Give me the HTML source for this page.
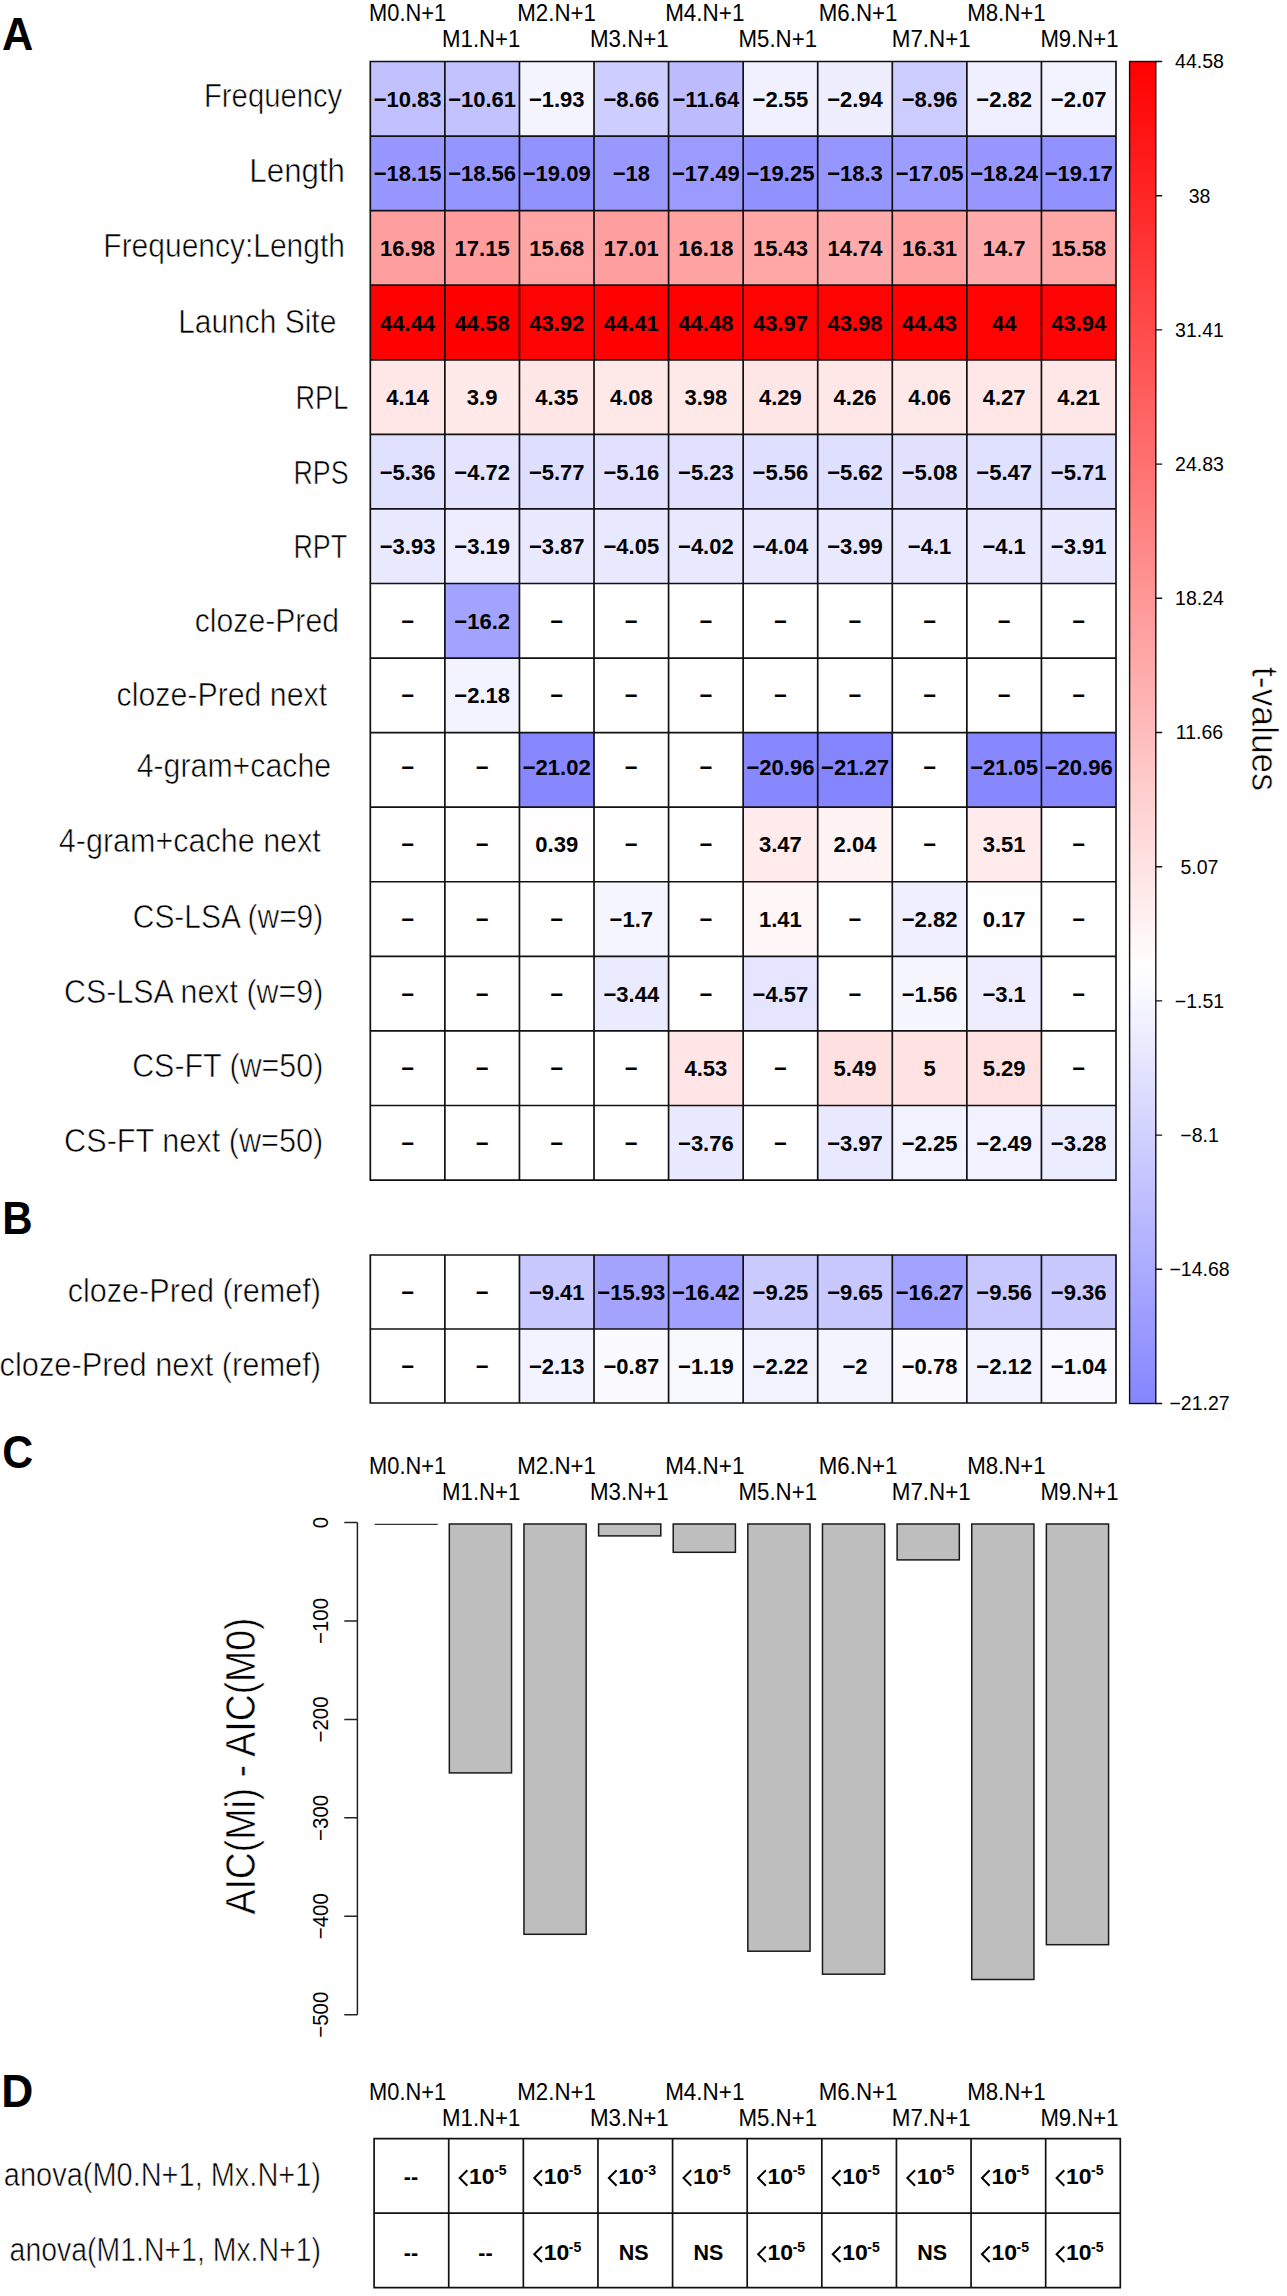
<!DOCTYPE html>
<html><head><meta charset="utf-8"><title>Figure</title>
<style>html,body{margin:0;padding:0;background:#fff;}body{width:1287px;height:2296px;overflow:hidden;font-family:"Liberation Sans", sans-serif;}svg{display:block;}</style>
</head><body>
<svg width="1287" height="2296" viewBox="0 0 1287 2296" font-family='"Liberation Sans", sans-serif'>
<style>.lab{stroke:#fff;stroke-width:0.6px;}</style>
<rect width="1287" height="2296" fill="#fff"/>
<text x="2.02" y="49.7" font-size="45.5" font-weight="bold" textLength="31.32" lengthAdjust="spacingAndGlyphs">A</text>
<text x="2.29" y="1233.5" font-size="45.5" font-weight="bold" textLength="30.31" lengthAdjust="spacingAndGlyphs">B</text>
<text x="2.14" y="1467.5" font-size="45.5" font-weight="bold" textLength="30.93" lengthAdjust="spacingAndGlyphs">C</text>
<text x="1.33" y="2106.6" font-size="45.5" font-weight="bold" textLength="32.03" lengthAdjust="spacingAndGlyphs">D</text>
<text x="369.11" y="21.3" font-size="23.8" textLength="77.06" lengthAdjust="spacingAndGlyphs">M0.N+1</text>
<text x="442.08" y="47.4" font-size="23.8" textLength="78.3" lengthAdjust="spacingAndGlyphs">M1.N+1</text>
<text x="517.27" y="21.3" font-size="23.8" textLength="78.61" lengthAdjust="spacingAndGlyphs">M2.N+1</text>
<text x="589.97" y="47.4" font-size="23.8" textLength="78.72" lengthAdjust="spacingAndGlyphs">M3.N+1</text>
<text x="665.16" y="21.3" font-size="23.8" textLength="79.24" lengthAdjust="spacingAndGlyphs">M4.N+1</text>
<text x="738.47" y="47.4" font-size="23.8" textLength="78.61" lengthAdjust="spacingAndGlyphs">M5.N+1</text>
<text x="818.77" y="21.3" font-size="23.8" textLength="78.72" lengthAdjust="spacingAndGlyphs">M6.N+1</text>
<text x="891.76" y="47.4" font-size="23.8" textLength="79.03" lengthAdjust="spacingAndGlyphs">M7.N+1</text>
<text x="967.17" y="21.3" font-size="23.8" textLength="78.61" lengthAdjust="spacingAndGlyphs">M8.N+1</text>
<text x="1040.38" y="47.4" font-size="23.8" textLength="78.1" lengthAdjust="spacingAndGlyphs">M9.N+1</text>
<rect x="370.3" y="61.5" width="74.57" height="74.57" fill="rgb(193,193,255)"/>
<rect x="444.87" y="61.5" width="74.57" height="74.57" fill="rgb(194,194,255)"/>
<rect x="519.44" y="61.5" width="74.57" height="74.57" fill="rgb(244,244,255)"/>
<rect x="594.01" y="61.5" width="74.57" height="74.57" fill="rgb(205,205,255)"/>
<rect x="668.58" y="61.5" width="74.57" height="74.57" fill="rgb(188,188,255)"/>
<rect x="743.15" y="61.5" width="74.57" height="74.57" fill="rgb(240,240,255)"/>
<rect x="817.72" y="61.5" width="74.57" height="74.57" fill="rgb(238,238,255)"/>
<rect x="892.29" y="61.5" width="74.57" height="74.57" fill="rgb(204,204,255)"/>
<rect x="966.86" y="61.5" width="74.57" height="74.57" fill="rgb(239,239,255)"/>
<rect x="1041.43" y="61.5" width="74.57" height="74.57" fill="rgb(243,243,255)"/>
<rect x="370.3" y="136.07" width="74.57" height="74.57" fill="rgb(151,151,255)"/>
<rect x="444.87" y="136.07" width="74.57" height="74.57" fill="rgb(149,149,255)"/>
<rect x="519.44" y="136.07" width="74.57" height="74.57" fill="rgb(146,146,255)"/>
<rect x="594.01" y="136.07" width="74.57" height="74.57" fill="rgb(152,152,255)"/>
<rect x="668.58" y="136.07" width="74.57" height="74.57" fill="rgb(155,155,255)"/>
<rect x="743.15" y="136.07" width="74.57" height="74.57" fill="rgb(145,145,255)"/>
<rect x="817.72" y="136.07" width="74.57" height="74.57" fill="rgb(150,150,255)"/>
<rect x="892.29" y="136.07" width="74.57" height="74.57" fill="rgb(157,157,255)"/>
<rect x="966.86" y="136.07" width="74.57" height="74.57" fill="rgb(151,151,255)"/>
<rect x="1041.43" y="136.07" width="74.57" height="74.57" fill="rgb(145,145,255)"/>
<rect x="370.3" y="210.64" width="74.57" height="74.57" fill="rgb(255,158,158)"/>
<rect x="444.87" y="210.64" width="74.57" height="74.57" fill="rgb(255,157,157)"/>
<rect x="519.44" y="210.64" width="74.57" height="74.57" fill="rgb(255,165,165)"/>
<rect x="594.01" y="210.64" width="74.57" height="74.57" fill="rgb(255,158,158)"/>
<rect x="668.58" y="210.64" width="74.57" height="74.57" fill="rgb(255,162,162)"/>
<rect x="743.15" y="210.64" width="74.57" height="74.57" fill="rgb(255,167,167)"/>
<rect x="817.72" y="210.64" width="74.57" height="74.57" fill="rgb(255,171,171)"/>
<rect x="892.29" y="210.64" width="74.57" height="74.57" fill="rgb(255,162,162)"/>
<rect x="966.86" y="210.64" width="74.57" height="74.57" fill="rgb(255,171,171)"/>
<rect x="1041.43" y="210.64" width="74.57" height="74.57" fill="rgb(255,166,166)"/>
<rect x="370.3" y="285.21" width="74.57" height="74.57" fill="rgb(255,1,1)"/>
<rect x="444.87" y="285.21" width="74.57" height="74.57" fill="rgb(255,0,0)"/>
<rect x="519.44" y="285.21" width="74.57" height="74.57" fill="rgb(255,4,4)"/>
<rect x="594.01" y="285.21" width="74.57" height="74.57" fill="rgb(255,1,1)"/>
<rect x="668.58" y="285.21" width="74.57" height="74.57" fill="rgb(255,1,1)"/>
<rect x="743.15" y="285.21" width="74.57" height="74.57" fill="rgb(255,3,3)"/>
<rect x="817.72" y="285.21" width="74.57" height="74.57" fill="rgb(255,3,3)"/>
<rect x="892.29" y="285.21" width="74.57" height="74.57" fill="rgb(255,1,1)"/>
<rect x="966.86" y="285.21" width="74.57" height="74.57" fill="rgb(255,3,3)"/>
<rect x="1041.43" y="285.21" width="74.57" height="74.57" fill="rgb(255,4,4)"/>
<rect x="370.3" y="359.78" width="74.57" height="74.57" fill="rgb(255,231,231)"/>
<rect x="444.87" y="359.78" width="74.57" height="74.57" fill="rgb(255,233,233)"/>
<rect x="519.44" y="359.78" width="74.57" height="74.57" fill="rgb(255,230,230)"/>
<rect x="594.01" y="359.78" width="74.57" height="74.57" fill="rgb(255,232,232)"/>
<rect x="668.58" y="359.78" width="74.57" height="74.57" fill="rgb(255,232,232)"/>
<rect x="743.15" y="359.78" width="74.57" height="74.57" fill="rgb(255,230,230)"/>
<rect x="817.72" y="359.78" width="74.57" height="74.57" fill="rgb(255,231,231)"/>
<rect x="892.29" y="359.78" width="74.57" height="74.57" fill="rgb(255,232,232)"/>
<rect x="966.86" y="359.78" width="74.57" height="74.57" fill="rgb(255,231,231)"/>
<rect x="1041.43" y="359.78" width="74.57" height="74.57" fill="rgb(255,231,231)"/>
<rect x="370.3" y="434.35" width="74.57" height="74.57" fill="rgb(224,224,255)"/>
<rect x="444.87" y="434.35" width="74.57" height="74.57" fill="rgb(228,228,255)"/>
<rect x="519.44" y="434.35" width="74.57" height="74.57" fill="rgb(222,222,255)"/>
<rect x="594.01" y="434.35" width="74.57" height="74.57" fill="rgb(225,225,255)"/>
<rect x="668.58" y="434.35" width="74.57" height="74.57" fill="rgb(225,225,255)"/>
<rect x="743.15" y="434.35" width="74.57" height="74.57" fill="rgb(223,223,255)"/>
<rect x="817.72" y="434.35" width="74.57" height="74.57" fill="rgb(223,223,255)"/>
<rect x="892.29" y="434.35" width="74.57" height="74.57" fill="rgb(226,226,255)"/>
<rect x="966.86" y="434.35" width="74.57" height="74.57" fill="rgb(224,224,255)"/>
<rect x="1041.43" y="434.35" width="74.57" height="74.57" fill="rgb(222,222,255)"/>
<rect x="370.3" y="508.92" width="74.57" height="74.57" fill="rgb(233,233,255)"/>
<rect x="444.87" y="508.92" width="74.57" height="74.57" fill="rgb(237,237,255)"/>
<rect x="519.44" y="508.92" width="74.57" height="74.57" fill="rgb(233,233,255)"/>
<rect x="594.01" y="508.92" width="74.57" height="74.57" fill="rgb(232,232,255)"/>
<rect x="668.58" y="508.92" width="74.57" height="74.57" fill="rgb(232,232,255)"/>
<rect x="743.15" y="508.92" width="74.57" height="74.57" fill="rgb(232,232,255)"/>
<rect x="817.72" y="508.92" width="74.57" height="74.57" fill="rgb(232,232,255)"/>
<rect x="892.29" y="508.92" width="74.57" height="74.57" fill="rgb(232,232,255)"/>
<rect x="966.86" y="508.92" width="74.57" height="74.57" fill="rgb(232,232,255)"/>
<rect x="1041.43" y="508.92" width="74.57" height="74.57" fill="rgb(233,233,255)"/>
<rect x="444.87" y="583.49" width="74.57" height="74.57" fill="rgb(162,162,255)"/>
<rect x="444.87" y="658.06" width="74.57" height="74.57" fill="rgb(243,243,255)"/>
<rect x="519.44" y="732.63" width="74.57" height="74.57" fill="rgb(135,135,255)"/>
<rect x="743.15" y="732.63" width="74.57" height="74.57" fill="rgb(135,135,255)"/>
<rect x="817.72" y="732.63" width="74.57" height="74.57" fill="rgb(133,133,255)"/>
<rect x="966.86" y="732.63" width="74.57" height="74.57" fill="rgb(135,135,255)"/>
<rect x="1041.43" y="732.63" width="74.57" height="74.57" fill="rgb(135,135,255)"/>
<rect x="519.44" y="807.2" width="74.57" height="74.57" fill="rgb(255,253,253)"/>
<rect x="743.15" y="807.2" width="74.57" height="74.57" fill="rgb(255,235,235)"/>
<rect x="817.72" y="807.2" width="74.57" height="74.57" fill="rgb(255,243,243)"/>
<rect x="966.86" y="807.2" width="74.57" height="74.57" fill="rgb(255,235,235)"/>
<rect x="594.01" y="881.77" width="74.57" height="74.57" fill="rgb(245,245,255)"/>
<rect x="743.15" y="881.77" width="74.57" height="74.57" fill="rgb(255,247,247)"/>
<rect x="892.29" y="881.77" width="74.57" height="74.57" fill="rgb(239,239,255)"/>
<rect x="966.86" y="881.77" width="74.57" height="74.57" fill="rgb(255,254,254)"/>
<rect x="594.01" y="956.34" width="74.57" height="74.57" fill="rgb(235,235,255)"/>
<rect x="743.15" y="956.34" width="74.57" height="74.57" fill="rgb(229,229,255)"/>
<rect x="892.29" y="956.34" width="74.57" height="74.57" fill="rgb(246,246,255)"/>
<rect x="966.86" y="956.34" width="74.57" height="74.57" fill="rgb(237,237,255)"/>
<rect x="668.58" y="1030.91" width="74.57" height="74.57" fill="rgb(255,229,229)"/>
<rect x="817.72" y="1030.91" width="74.57" height="74.57" fill="rgb(255,224,224)"/>
<rect x="892.29" y="1030.91" width="74.57" height="74.57" fill="rgb(255,226,226)"/>
<rect x="966.86" y="1030.91" width="74.57" height="74.57" fill="rgb(255,225,225)"/>
<rect x="668.58" y="1105.48" width="74.57" height="74.57" fill="rgb(233,233,255)"/>
<rect x="817.72" y="1105.48" width="74.57" height="74.57" fill="rgb(232,232,255)"/>
<rect x="892.29" y="1105.48" width="74.57" height="74.57" fill="rgb(242,242,255)"/>
<rect x="966.86" y="1105.48" width="74.57" height="74.57" fill="rgb(241,241,255)"/>
<rect x="1041.43" y="1105.48" width="74.57" height="74.57" fill="rgb(236,236,255)"/>
<path d="M369.45 61.5H1116.85M369.45 136.07H1116.85M369.45 210.64H1116.85M369.45 285.21H1116.85M369.45 359.78H1116.85M369.45 434.35H1116.85M369.45 508.92H1116.85M369.45 583.49H1116.85M369.45 658.06H1116.85M369.45 732.63H1116.85M369.45 807.2H1116.85M369.45 881.77H1116.85M369.45 956.34H1116.85M369.45 1030.91H1116.85M369.45 1105.48H1116.85M369.45 1180.05H1116.85M370.3 61.5V1180.05M444.87 61.5V1180.05M519.44 61.5V1180.05M594.01 61.5V1180.05M668.58 61.5V1180.05M743.15 61.5V1180.05M817.72 61.5V1180.05M892.29 61.5V1180.05M966.86 61.5V1180.05M1041.43 61.5V1180.05M1116 61.5V1180.05" stroke="#111" stroke-width="1.7" fill="none"/>
<text x="204" y="107.4" font-size="33" textLength="138.26" lengthAdjust="spacingAndGlyphs" class="lab">Frequency</text>
<text x="407.59" y="106.78" font-size="22" font-weight="bold" text-anchor="middle">−10.83</text>
<text x="482.15" y="106.78" font-size="22" font-weight="bold" text-anchor="middle">−10.61</text>
<text x="556.73" y="106.78" font-size="22" font-weight="bold" text-anchor="middle">−1.93</text>
<text x="631.3" y="106.78" font-size="22" font-weight="bold" text-anchor="middle">−8.66</text>
<text x="705.87" y="106.78" font-size="22" font-weight="bold" text-anchor="middle">−11.64</text>
<text x="780.43" y="106.78" font-size="22" font-weight="bold" text-anchor="middle">−2.55</text>
<text x="855" y="106.78" font-size="22" font-weight="bold" text-anchor="middle">−2.94</text>
<text x="929.58" y="106.78" font-size="22" font-weight="bold" text-anchor="middle">−8.96</text>
<text x="1004.14" y="106.78" font-size="22" font-weight="bold" text-anchor="middle">−2.82</text>
<text x="1078.71" y="106.78" font-size="22" font-weight="bold" text-anchor="middle">−2.07</text>
<text x="249.33" y="182.2" font-size="33" textLength="95.7" lengthAdjust="spacingAndGlyphs" class="lab">Length</text>
<text x="407.59" y="181.35" font-size="22" font-weight="bold" text-anchor="middle">−18.15</text>
<text x="482.15" y="181.35" font-size="22" font-weight="bold" text-anchor="middle">−18.56</text>
<text x="556.73" y="181.35" font-size="22" font-weight="bold" text-anchor="middle">−19.09</text>
<text x="631.3" y="181.35" font-size="22" font-weight="bold" text-anchor="middle">−18</text>
<text x="705.87" y="181.35" font-size="22" font-weight="bold" text-anchor="middle">−17.49</text>
<text x="780.43" y="181.35" font-size="22" font-weight="bold" text-anchor="middle">−19.25</text>
<text x="855" y="181.35" font-size="22" font-weight="bold" text-anchor="middle">−18.3</text>
<text x="929.58" y="181.35" font-size="22" font-weight="bold" text-anchor="middle">−17.05</text>
<text x="1004.14" y="181.35" font-size="22" font-weight="bold" text-anchor="middle">−18.24</text>
<text x="1078.71" y="181.35" font-size="22" font-weight="bold" text-anchor="middle">−19.17</text>
<text x="103.34" y="257" font-size="33" textLength="241.61" lengthAdjust="spacingAndGlyphs" class="lab">Frequency:Length</text>
<text x="407.59" y="255.92" font-size="22" font-weight="bold" text-anchor="middle">16.98</text>
<text x="482.15" y="255.92" font-size="22" font-weight="bold" text-anchor="middle">17.15</text>
<text x="556.73" y="255.92" font-size="22" font-weight="bold" text-anchor="middle">15.68</text>
<text x="631.3" y="255.92" font-size="22" font-weight="bold" text-anchor="middle">17.01</text>
<text x="705.87" y="255.92" font-size="22" font-weight="bold" text-anchor="middle">16.18</text>
<text x="780.43" y="255.92" font-size="22" font-weight="bold" text-anchor="middle">15.43</text>
<text x="855" y="255.92" font-size="22" font-weight="bold" text-anchor="middle">14.74</text>
<text x="929.58" y="255.92" font-size="22" font-weight="bold" text-anchor="middle">16.31</text>
<text x="1004.14" y="255.92" font-size="22" font-weight="bold" text-anchor="middle">14.7</text>
<text x="1078.71" y="255.92" font-size="22" font-weight="bold" text-anchor="middle">15.58</text>
<text x="178.14" y="333.1" font-size="33" textLength="158.19" lengthAdjust="spacingAndGlyphs" class="lab">Launch Site</text>
<text x="407.59" y="330.5" font-size="22" font-weight="bold" text-anchor="middle">44.44</text>
<text x="482.15" y="330.5" font-size="22" font-weight="bold" text-anchor="middle">44.58</text>
<text x="556.73" y="330.5" font-size="22" font-weight="bold" text-anchor="middle">43.92</text>
<text x="631.3" y="330.5" font-size="22" font-weight="bold" text-anchor="middle">44.41</text>
<text x="705.87" y="330.5" font-size="22" font-weight="bold" text-anchor="middle">44.48</text>
<text x="780.43" y="330.5" font-size="22" font-weight="bold" text-anchor="middle">43.97</text>
<text x="855" y="330.5" font-size="22" font-weight="bold" text-anchor="middle">43.98</text>
<text x="929.58" y="330.5" font-size="22" font-weight="bold" text-anchor="middle">44.43</text>
<text x="1004.14" y="330.5" font-size="22" font-weight="bold" text-anchor="middle">44</text>
<text x="1078.71" y="330.5" font-size="22" font-weight="bold" text-anchor="middle">43.94</text>
<text x="295.47" y="408.9" font-size="33" textLength="52.83" lengthAdjust="spacingAndGlyphs" class="lab">RPL</text>
<text x="407.59" y="405.06" font-size="22" font-weight="bold" text-anchor="middle">4.14</text>
<text x="482.15" y="405.06" font-size="22" font-weight="bold" text-anchor="middle">3.9</text>
<text x="556.73" y="405.06" font-size="22" font-weight="bold" text-anchor="middle">4.35</text>
<text x="631.3" y="405.06" font-size="22" font-weight="bold" text-anchor="middle">4.08</text>
<text x="705.87" y="405.06" font-size="22" font-weight="bold" text-anchor="middle">3.98</text>
<text x="780.43" y="405.06" font-size="22" font-weight="bold" text-anchor="middle">4.29</text>
<text x="855" y="405.06" font-size="22" font-weight="bold" text-anchor="middle">4.26</text>
<text x="929.58" y="405.06" font-size="22" font-weight="bold" text-anchor="middle">4.06</text>
<text x="1004.14" y="405.06" font-size="22" font-weight="bold" text-anchor="middle">4.27</text>
<text x="1078.71" y="405.06" font-size="22" font-weight="bold" text-anchor="middle">4.21</text>
<text x="293.4" y="483.6" font-size="33" textLength="55.13" lengthAdjust="spacingAndGlyphs" class="lab">RPS</text>
<text x="407.59" y="479.63" font-size="22" font-weight="bold" text-anchor="middle">−5.36</text>
<text x="482.15" y="479.63" font-size="22" font-weight="bold" text-anchor="middle">−4.72</text>
<text x="556.73" y="479.63" font-size="22" font-weight="bold" text-anchor="middle">−5.77</text>
<text x="631.3" y="479.63" font-size="22" font-weight="bold" text-anchor="middle">−5.16</text>
<text x="705.87" y="479.63" font-size="22" font-weight="bold" text-anchor="middle">−5.23</text>
<text x="780.43" y="479.63" font-size="22" font-weight="bold" text-anchor="middle">−5.56</text>
<text x="855" y="479.63" font-size="22" font-weight="bold" text-anchor="middle">−5.62</text>
<text x="929.58" y="479.63" font-size="22" font-weight="bold" text-anchor="middle">−5.08</text>
<text x="1004.14" y="479.63" font-size="22" font-weight="bold" text-anchor="middle">−5.47</text>
<text x="1078.71" y="479.63" font-size="22" font-weight="bold" text-anchor="middle">−5.71</text>
<text x="293.4" y="557.8" font-size="33" textLength="53.72" lengthAdjust="spacingAndGlyphs" class="lab">RPT</text>
<text x="407.59" y="554.2" font-size="22" font-weight="bold" text-anchor="middle">−3.93</text>
<text x="482.15" y="554.2" font-size="22" font-weight="bold" text-anchor="middle">−3.19</text>
<text x="556.73" y="554.2" font-size="22" font-weight="bold" text-anchor="middle">−3.87</text>
<text x="631.3" y="554.2" font-size="22" font-weight="bold" text-anchor="middle">−4.05</text>
<text x="705.87" y="554.2" font-size="22" font-weight="bold" text-anchor="middle">−4.02</text>
<text x="780.43" y="554.2" font-size="22" font-weight="bold" text-anchor="middle">−4.04</text>
<text x="855" y="554.2" font-size="22" font-weight="bold" text-anchor="middle">−3.99</text>
<text x="929.58" y="554.2" font-size="22" font-weight="bold" text-anchor="middle">−4.1</text>
<text x="1004.14" y="554.2" font-size="22" font-weight="bold" text-anchor="middle">−4.1</text>
<text x="1078.71" y="554.2" font-size="22" font-weight="bold" text-anchor="middle">−3.91</text>
<text x="194.72" y="631.7" font-size="33" textLength="144.23" lengthAdjust="spacingAndGlyphs" class="lab">cloze-Pred</text>
<text x="407.59" y="628.77" font-size="22" font-weight="bold" text-anchor="middle">−</text>
<text x="482.15" y="628.77" font-size="22" font-weight="bold" text-anchor="middle">−16.2</text>
<text x="556.73" y="628.77" font-size="22" font-weight="bold" text-anchor="middle">−</text>
<text x="631.3" y="628.77" font-size="22" font-weight="bold" text-anchor="middle">−</text>
<text x="705.87" y="628.77" font-size="22" font-weight="bold" text-anchor="middle">−</text>
<text x="780.43" y="628.77" font-size="22" font-weight="bold" text-anchor="middle">−</text>
<text x="855" y="628.77" font-size="22" font-weight="bold" text-anchor="middle">−</text>
<text x="929.58" y="628.77" font-size="22" font-weight="bold" text-anchor="middle">−</text>
<text x="1004.14" y="628.77" font-size="22" font-weight="bold" text-anchor="middle">−</text>
<text x="1078.71" y="628.77" font-size="22" font-weight="bold" text-anchor="middle">−</text>
<text x="116.61" y="705.9" font-size="33" textLength="210.51" lengthAdjust="spacingAndGlyphs" class="lab">cloze-Pred next</text>
<text x="407.59" y="703.34" font-size="22" font-weight="bold" text-anchor="middle">−</text>
<text x="482.15" y="703.34" font-size="22" font-weight="bold" text-anchor="middle">−2.18</text>
<text x="556.73" y="703.34" font-size="22" font-weight="bold" text-anchor="middle">−</text>
<text x="631.3" y="703.34" font-size="22" font-weight="bold" text-anchor="middle">−</text>
<text x="705.87" y="703.34" font-size="22" font-weight="bold" text-anchor="middle">−</text>
<text x="780.43" y="703.34" font-size="22" font-weight="bold" text-anchor="middle">−</text>
<text x="855" y="703.34" font-size="22" font-weight="bold" text-anchor="middle">−</text>
<text x="929.58" y="703.34" font-size="22" font-weight="bold" text-anchor="middle">−</text>
<text x="1004.14" y="703.34" font-size="22" font-weight="bold" text-anchor="middle">−</text>
<text x="1078.71" y="703.34" font-size="22" font-weight="bold" text-anchor="middle">−</text>
<text x="136.7" y="777.4" font-size="33" textLength="194.44" lengthAdjust="spacingAndGlyphs" class="lab">4-gram+cache</text>
<text x="407.59" y="775.31" font-size="22" font-weight="bold" text-anchor="middle">−</text>
<text x="482.15" y="775.31" font-size="22" font-weight="bold" text-anchor="middle">−</text>
<text x="556.73" y="775.31" font-size="22" font-weight="bold" text-anchor="middle">−21.02</text>
<text x="631.3" y="775.31" font-size="22" font-weight="bold" text-anchor="middle">−</text>
<text x="705.87" y="775.31" font-size="22" font-weight="bold" text-anchor="middle">−</text>
<text x="780.43" y="775.31" font-size="22" font-weight="bold" text-anchor="middle">−20.96</text>
<text x="855" y="775.31" font-size="22" font-weight="bold" text-anchor="middle">−21.27</text>
<text x="929.58" y="775.31" font-size="22" font-weight="bold" text-anchor="middle">−</text>
<text x="1004.14" y="775.31" font-size="22" font-weight="bold" text-anchor="middle">−21.05</text>
<text x="1078.71" y="775.31" font-size="22" font-weight="bold" text-anchor="middle">−20.96</text>
<text x="58.8" y="852.2" font-size="33" textLength="262.02" lengthAdjust="spacingAndGlyphs" class="lab">4-gram+cache next</text>
<text x="407.59" y="852.48" font-size="22" font-weight="bold" text-anchor="middle">−</text>
<text x="482.15" y="852.48" font-size="22" font-weight="bold" text-anchor="middle">−</text>
<text x="556.73" y="852.48" font-size="22" font-weight="bold" text-anchor="middle">0.39</text>
<text x="631.3" y="852.48" font-size="22" font-weight="bold" text-anchor="middle">−</text>
<text x="705.87" y="852.48" font-size="22" font-weight="bold" text-anchor="middle">−</text>
<text x="780.43" y="852.48" font-size="22" font-weight="bold" text-anchor="middle">3.47</text>
<text x="855" y="852.48" font-size="22" font-weight="bold" text-anchor="middle">2.04</text>
<text x="929.58" y="852.48" font-size="22" font-weight="bold" text-anchor="middle">−</text>
<text x="1004.14" y="852.48" font-size="22" font-weight="bold" text-anchor="middle">3.51</text>
<text x="1078.71" y="852.48" font-size="22" font-weight="bold" text-anchor="middle">−</text>
<text x="132.79" y="928.4" font-size="33" textLength="190.45" lengthAdjust="spacingAndGlyphs" class="lab">CS-LSA (w=9)</text>
<text x="407.59" y="927.05" font-size="22" font-weight="bold" text-anchor="middle">−</text>
<text x="482.15" y="927.05" font-size="22" font-weight="bold" text-anchor="middle">−</text>
<text x="556.73" y="927.05" font-size="22" font-weight="bold" text-anchor="middle">−</text>
<text x="631.3" y="927.05" font-size="22" font-weight="bold" text-anchor="middle">−1.7</text>
<text x="705.87" y="927.05" font-size="22" font-weight="bold" text-anchor="middle">−</text>
<text x="780.43" y="927.05" font-size="22" font-weight="bold" text-anchor="middle">1.41</text>
<text x="855" y="927.05" font-size="22" font-weight="bold" text-anchor="middle">−</text>
<text x="929.58" y="927.05" font-size="22" font-weight="bold" text-anchor="middle">−2.82</text>
<text x="1004.14" y="927.05" font-size="22" font-weight="bold" text-anchor="middle">0.17</text>
<text x="1078.71" y="927.05" font-size="22" font-weight="bold" text-anchor="middle">−</text>
<text x="64.07" y="1002.6" font-size="33" textLength="259.2" lengthAdjust="spacingAndGlyphs" class="lab">CS-LSA next (w=9)</text>
<text x="407.59" y="1001.62" font-size="22" font-weight="bold" text-anchor="middle">−</text>
<text x="482.15" y="1001.62" font-size="22" font-weight="bold" text-anchor="middle">−</text>
<text x="556.73" y="1001.62" font-size="22" font-weight="bold" text-anchor="middle">−</text>
<text x="631.3" y="1001.62" font-size="22" font-weight="bold" text-anchor="middle">−3.44</text>
<text x="705.87" y="1001.62" font-size="22" font-weight="bold" text-anchor="middle">−</text>
<text x="780.43" y="1001.62" font-size="22" font-weight="bold" text-anchor="middle">−4.57</text>
<text x="855" y="1001.62" font-size="22" font-weight="bold" text-anchor="middle">−</text>
<text x="929.58" y="1001.62" font-size="22" font-weight="bold" text-anchor="middle">−1.56</text>
<text x="1004.14" y="1001.62" font-size="22" font-weight="bold" text-anchor="middle">−3.1</text>
<text x="1078.71" y="1001.62" font-size="22" font-weight="bold" text-anchor="middle">−</text>
<text x="132.16" y="1077" font-size="33" textLength="191.12" lengthAdjust="spacingAndGlyphs" class="lab">CS-FT (w=50)</text>
<text x="407.59" y="1076.19" font-size="22" font-weight="bold" text-anchor="middle">−</text>
<text x="482.15" y="1076.19" font-size="22" font-weight="bold" text-anchor="middle">−</text>
<text x="556.73" y="1076.19" font-size="22" font-weight="bold" text-anchor="middle">−</text>
<text x="631.3" y="1076.19" font-size="22" font-weight="bold" text-anchor="middle">−</text>
<text x="705.87" y="1076.19" font-size="22" font-weight="bold" text-anchor="middle">4.53</text>
<text x="780.43" y="1076.19" font-size="22" font-weight="bold" text-anchor="middle">−</text>
<text x="855" y="1076.19" font-size="22" font-weight="bold" text-anchor="middle">5.49</text>
<text x="929.58" y="1076.19" font-size="22" font-weight="bold" text-anchor="middle">5</text>
<text x="1004.14" y="1076.19" font-size="22" font-weight="bold" text-anchor="middle">5.29</text>
<text x="1078.71" y="1076.19" font-size="22" font-weight="bold" text-anchor="middle">−</text>
<text x="64.05" y="1152" font-size="33" textLength="259.25" lengthAdjust="spacingAndGlyphs" class="lab">CS-FT next (w=50)</text>
<text x="407.59" y="1150.76" font-size="22" font-weight="bold" text-anchor="middle">−</text>
<text x="482.15" y="1150.76" font-size="22" font-weight="bold" text-anchor="middle">−</text>
<text x="556.73" y="1150.76" font-size="22" font-weight="bold" text-anchor="middle">−</text>
<text x="631.3" y="1150.76" font-size="22" font-weight="bold" text-anchor="middle">−</text>
<text x="705.87" y="1150.76" font-size="22" font-weight="bold" text-anchor="middle">−3.76</text>
<text x="780.43" y="1150.76" font-size="22" font-weight="bold" text-anchor="middle">−</text>
<text x="855" y="1150.76" font-size="22" font-weight="bold" text-anchor="middle">−3.97</text>
<text x="929.58" y="1150.76" font-size="22" font-weight="bold" text-anchor="middle">−2.25</text>
<text x="1004.14" y="1150.76" font-size="22" font-weight="bold" text-anchor="middle">−2.49</text>
<text x="1078.71" y="1150.76" font-size="22" font-weight="bold" text-anchor="middle">−3.28</text>
<rect x="519.44" y="1255" width="74.57" height="74" fill="rgb(201,201,255)"/>
<rect x="594.01" y="1255" width="74.57" height="74" fill="rgb(164,164,255)"/>
<rect x="668.58" y="1255" width="74.57" height="74" fill="rgb(161,161,255)"/>
<rect x="743.15" y="1255" width="74.57" height="74" fill="rgb(202,202,255)"/>
<rect x="817.72" y="1255" width="74.57" height="74" fill="rgb(200,200,255)"/>
<rect x="892.29" y="1255" width="74.57" height="74" fill="rgb(162,162,255)"/>
<rect x="966.86" y="1255" width="74.57" height="74" fill="rgb(200,200,255)"/>
<rect x="1041.43" y="1255" width="74.57" height="74" fill="rgb(201,201,255)"/>
<rect x="519.44" y="1329" width="74.57" height="74" fill="rgb(243,243,255)"/>
<rect x="594.01" y="1329" width="74.57" height="74" fill="rgb(250,250,255)"/>
<rect x="668.58" y="1329" width="74.57" height="74" fill="rgb(248,248,255)"/>
<rect x="743.15" y="1329" width="74.57" height="74" fill="rgb(242,242,255)"/>
<rect x="817.72" y="1329" width="74.57" height="74" fill="rgb(244,244,255)"/>
<rect x="892.29" y="1329" width="74.57" height="74" fill="rgb(251,251,255)"/>
<rect x="966.86" y="1329" width="74.57" height="74" fill="rgb(243,243,255)"/>
<rect x="1041.43" y="1329" width="74.57" height="74" fill="rgb(249,249,255)"/>
<path d="M369.45 1255H1116.85M369.45 1329H1116.85M369.45 1403H1116.85M370.3 1255V1403M444.87 1255V1403M519.44 1255V1403M594.01 1255V1403M668.58 1255V1403M743.15 1255V1403M817.72 1255V1403M892.29 1255V1403M966.86 1255V1403M1041.43 1255V1403M1116 1255V1403" stroke="#111" stroke-width="1.7" fill="none"/>
<text x="67.7" y="1301.6" font-size="33" textLength="253.3" lengthAdjust="spacingAndGlyphs" class="lab">cloze-Pred (remef)</text>
<text x="407.59" y="1300" font-size="22" font-weight="bold" text-anchor="middle">−</text>
<text x="482.15" y="1300" font-size="22" font-weight="bold" text-anchor="middle">−</text>
<text x="556.73" y="1300" font-size="22" font-weight="bold" text-anchor="middle">−9.41</text>
<text x="631.3" y="1300" font-size="22" font-weight="bold" text-anchor="middle">−15.93</text>
<text x="705.87" y="1300" font-size="22" font-weight="bold" text-anchor="middle">−16.42</text>
<text x="780.43" y="1300" font-size="22" font-weight="bold" text-anchor="middle">−9.25</text>
<text x="855" y="1300" font-size="22" font-weight="bold" text-anchor="middle">−9.65</text>
<text x="929.58" y="1300" font-size="22" font-weight="bold" text-anchor="middle">−16.27</text>
<text x="1004.14" y="1300" font-size="22" font-weight="bold" text-anchor="middle">−9.56</text>
<text x="1078.71" y="1300" font-size="22" font-weight="bold" text-anchor="middle">−9.36</text>
<text x="-0.41" y="1375.5" font-size="33" textLength="321.41" lengthAdjust="spacingAndGlyphs" class="lab">cloze-Pred next (remef)</text>
<text x="407.59" y="1374" font-size="22" font-weight="bold" text-anchor="middle">−</text>
<text x="482.15" y="1374" font-size="22" font-weight="bold" text-anchor="middle">−</text>
<text x="556.73" y="1374" font-size="22" font-weight="bold" text-anchor="middle">−2.13</text>
<text x="631.3" y="1374" font-size="22" font-weight="bold" text-anchor="middle">−0.87</text>
<text x="705.87" y="1374" font-size="22" font-weight="bold" text-anchor="middle">−1.19</text>
<text x="780.43" y="1374" font-size="22" font-weight="bold" text-anchor="middle">−2.22</text>
<text x="855" y="1374" font-size="22" font-weight="bold" text-anchor="middle">−2</text>
<text x="929.58" y="1374" font-size="22" font-weight="bold" text-anchor="middle">−0.78</text>
<text x="1004.14" y="1374" font-size="22" font-weight="bold" text-anchor="middle">−2.12</text>
<text x="1078.71" y="1374" font-size="22" font-weight="bold" text-anchor="middle">−1.04</text>
<defs><linearGradient id="cb" x1="0" y1="0" x2="0" y2="1">
<stop offset="0.0000" stop-color="rgb(255,0,0)"/>
<stop offset="0.6770" stop-color="rgb(255,255,255)"/>
<stop offset="1.0000" stop-color="rgb(133,133,255)"/>
</linearGradient></defs>
<rect x="1129.6" y="61.5" width="26.2" height="1342" fill="url(#cb)" stroke="#111" stroke-width="1.4"/>
<text x="1199.5" y="68.3" font-size="19.5" text-anchor="middle">44.58</text>
<text x="1199.5" y="202.5" font-size="19.5" text-anchor="middle">38</text>
<text x="1199.5" y="336.7" font-size="19.5" text-anchor="middle">31.41</text>
<text x="1199.5" y="470.9" font-size="19.5" text-anchor="middle">24.83</text>
<text x="1199.5" y="605.1" font-size="19.5" text-anchor="middle">18.24</text>
<text x="1199.5" y="739.3" font-size="19.5" text-anchor="middle">11.66</text>
<text x="1199.5" y="873.5" font-size="19.5" text-anchor="middle">5.07</text>
<text x="1199.5" y="1007.7" font-size="19.5" text-anchor="middle">−1.51</text>
<text x="1199.5" y="1141.9" font-size="19.5" text-anchor="middle">−8.1</text>
<text x="1199.5" y="1276.1" font-size="19.5" text-anchor="middle">−14.68</text>
<text x="1199.5" y="1410.3" font-size="19.5" text-anchor="middle">−21.27</text>
<path d="M1155.8 61.5H1162.2M1155.8 195.7H1162.2M1155.8 329.9H1162.2M1155.8 464.1H1162.2M1155.8 598.3H1162.2M1155.8 732.5H1162.2M1155.8 866.7H1162.2M1155.8 1000.9H1162.2M1155.8 1135.1H1162.2M1155.8 1269.3H1162.2M1155.8 1403.5H1162.2" stroke="#111" stroke-width="1.4"/>
<text transform="translate(1252.2,729) rotate(90)" font-size="36.5" class="lab" text-anchor="middle" textLength="124" lengthAdjust="spacingAndGlyphs">t-values</text>
<text x="369.11" y="1473.6" font-size="23.8" textLength="77.06" lengthAdjust="spacingAndGlyphs">M0.N+1</text>
<text x="442.08" y="1500" font-size="23.8" textLength="78.3" lengthAdjust="spacingAndGlyphs">M1.N+1</text>
<text x="517.27" y="1473.6" font-size="23.8" textLength="78.61" lengthAdjust="spacingAndGlyphs">M2.N+1</text>
<text x="589.97" y="1500" font-size="23.8" textLength="78.72" lengthAdjust="spacingAndGlyphs">M3.N+1</text>
<text x="665.16" y="1473.6" font-size="23.8" textLength="79.24" lengthAdjust="spacingAndGlyphs">M4.N+1</text>
<text x="738.47" y="1500" font-size="23.8" textLength="78.61" lengthAdjust="spacingAndGlyphs">M5.N+1</text>
<text x="818.77" y="1473.6" font-size="23.8" textLength="78.72" lengthAdjust="spacingAndGlyphs">M6.N+1</text>
<text x="891.76" y="1500" font-size="23.8" textLength="79.03" lengthAdjust="spacingAndGlyphs">M7.N+1</text>
<text x="967.17" y="1473.6" font-size="23.8" textLength="78.61" lengthAdjust="spacingAndGlyphs">M8.N+1</text>
<text x="1040.38" y="1500" font-size="23.8" textLength="78.1" lengthAdjust="spacingAndGlyphs">M9.N+1</text>
<path d="M357.4 1522.6V2014.7" stroke="#222" stroke-width="1.5" fill="none"/>
<text transform="translate(327.7,1522.6) rotate(-90)" font-size="22" text-anchor="middle" textLength="11.38" lengthAdjust="spacingAndGlyphs">0</text>
<text transform="translate(327.7,1621.02) rotate(-90)" font-size="22" text-anchor="middle" textLength="46.08" lengthAdjust="spacingAndGlyphs">−100</text>
<text transform="translate(327.7,1719.44) rotate(-90)" font-size="22" text-anchor="middle" textLength="46.08" lengthAdjust="spacingAndGlyphs">−200</text>
<text transform="translate(327.7,1817.86) rotate(-90)" font-size="22" text-anchor="middle" textLength="46.08" lengthAdjust="spacingAndGlyphs">−300</text>
<text transform="translate(327.7,1916.28) rotate(-90)" font-size="22" text-anchor="middle" textLength="46.08" lengthAdjust="spacingAndGlyphs">−400</text>
<text transform="translate(327.7,2014.7) rotate(-90)" font-size="22" text-anchor="middle" textLength="46.08" lengthAdjust="spacingAndGlyphs">−500</text>
<path d="M344.3 1522.6H357.4M344.3 1621.02H357.4M344.3 1719.44H357.4M344.3 1817.86H357.4M344.3 1916.28H357.4M344.3 2014.7H357.4" stroke="#222" stroke-width="1.5" fill="none"/>
<path d="M374.7 1524.4H437.7" stroke="#333" stroke-width="1.3"/>
<rect x="449.33" y="1524" width="62.2" height="248.9" fill="#bebebe" stroke="#1a1a1a" stroke-width="1.5"/>
<rect x="523.96" y="1524" width="62.2" height="410.3" fill="#bebebe" stroke="#1a1a1a" stroke-width="1.5"/>
<rect x="598.59" y="1524" width="62.2" height="11.9" fill="#bebebe" stroke="#1a1a1a" stroke-width="1.5"/>
<rect x="673.22" y="1524" width="62.2" height="28.3" fill="#bebebe" stroke="#1a1a1a" stroke-width="1.5"/>
<rect x="747.85" y="1524" width="62.2" height="427.2" fill="#bebebe" stroke="#1a1a1a" stroke-width="1.5"/>
<rect x="822.48" y="1524" width="62.2" height="450.2" fill="#bebebe" stroke="#1a1a1a" stroke-width="1.5"/>
<rect x="897.11" y="1524" width="62.2" height="35.9" fill="#bebebe" stroke="#1a1a1a" stroke-width="1.5"/>
<rect x="971.74" y="1524" width="62.2" height="455.5" fill="#bebebe" stroke="#1a1a1a" stroke-width="1.5"/>
<rect x="1046.37" y="1524" width="62.2" height="420.7" fill="#bebebe" stroke="#1a1a1a" stroke-width="1.5"/>
<text transform="translate(255.4,1766) rotate(-90)" font-size="42.6" class="lab" text-anchor="middle" textLength="297" lengthAdjust="spacingAndGlyphs">AIC(Mi) - AIC(M0)</text>
<text x="369.11" y="2099.6" font-size="23.8" textLength="77.06" lengthAdjust="spacingAndGlyphs">M0.N+1</text>
<text x="442.08" y="2125.7" font-size="23.8" textLength="78.3" lengthAdjust="spacingAndGlyphs">M1.N+1</text>
<text x="517.27" y="2099.6" font-size="23.8" textLength="78.61" lengthAdjust="spacingAndGlyphs">M2.N+1</text>
<text x="589.97" y="2125.7" font-size="23.8" textLength="78.72" lengthAdjust="spacingAndGlyphs">M3.N+1</text>
<text x="665.16" y="2099.6" font-size="23.8" textLength="79.24" lengthAdjust="spacingAndGlyphs">M4.N+1</text>
<text x="738.47" y="2125.7" font-size="23.8" textLength="78.61" lengthAdjust="spacingAndGlyphs">M5.N+1</text>
<text x="818.77" y="2099.6" font-size="23.8" textLength="78.72" lengthAdjust="spacingAndGlyphs">M6.N+1</text>
<text x="891.76" y="2125.7" font-size="23.8" textLength="79.03" lengthAdjust="spacingAndGlyphs">M7.N+1</text>
<text x="967.17" y="2099.6" font-size="23.8" textLength="78.61" lengthAdjust="spacingAndGlyphs">M8.N+1</text>
<text x="1040.38" y="2125.7" font-size="23.8" textLength="78.1" lengthAdjust="spacingAndGlyphs">M9.N+1</text>
<path d="M373.35 2138.7H1121.05M373.35 2213.15H1121.05M373.35 2287.6H1121.05M374.1 2138.7V2287.6M448.72 2138.7V2287.6M523.34 2138.7V2287.6M597.96 2138.7V2287.6M672.58 2138.7V2287.6M747.2 2138.7V2287.6M821.82 2138.7V2287.6M896.44 2138.7V2287.6M971.06 2138.7V2287.6M1045.68 2138.7V2287.6M1120.3 2138.7V2287.6" stroke="#111" stroke-width="1.7" fill="none"/>
<text x="3.87" y="2186.4" font-size="33" textLength="317.13" lengthAdjust="spacingAndGlyphs" class="lab">anova(M0.N+1, Mx.N+1)</text>
<text x="9.59" y="2260.5" font-size="33" textLength="311.37" lengthAdjust="spacingAndGlyphs" class="lab">anova(M1.N+1, Mx.N+1)</text>
<text x="410.91" y="2183.5" font-size="21.5" font-weight="bold" text-anchor="middle">--</text>
<path d="M467.33 2170.3L459.63 2178L467.33 2185.8" stroke="#000" stroke-width="2" fill="none" stroke-linejoin="miter"/>
<text x="469.08" y="2183.5" font-size="21.5" font-weight="bold" textLength="25.59" lengthAdjust="spacingAndGlyphs">10</text>
<text x="494.18" y="2175.3" font-size="14" font-weight="bold" textLength="12.54" lengthAdjust="spacingAndGlyphs">-5</text>
<path d="M541.95 2170.3L534.25 2178L541.95 2185.8" stroke="#000" stroke-width="2" fill="none" stroke-linejoin="miter"/>
<text x="543.7" y="2183.5" font-size="21.5" font-weight="bold" textLength="25.59" lengthAdjust="spacingAndGlyphs">10</text>
<text x="568.8" y="2175.3" font-size="14" font-weight="bold" textLength="12.54" lengthAdjust="spacingAndGlyphs">-5</text>
<path d="M616.57 2170.3L608.87 2178L616.57 2185.8" stroke="#000" stroke-width="2" fill="none" stroke-linejoin="miter"/>
<text x="618.32" y="2183.5" font-size="21.5" font-weight="bold" textLength="25.59" lengthAdjust="spacingAndGlyphs">10</text>
<text x="643.41" y="2175.3" font-size="14" font-weight="bold" textLength="12.67" lengthAdjust="spacingAndGlyphs">-3</text>
<path d="M691.19 2170.3L683.49 2178L691.19 2185.8" stroke="#000" stroke-width="2" fill="none" stroke-linejoin="miter"/>
<text x="692.94" y="2183.5" font-size="21.5" font-weight="bold" textLength="25.59" lengthAdjust="spacingAndGlyphs">10</text>
<text x="718.04" y="2175.3" font-size="14" font-weight="bold" textLength="12.54" lengthAdjust="spacingAndGlyphs">-5</text>
<path d="M765.81 2170.3L758.11 2178L765.81 2185.8" stroke="#000" stroke-width="2" fill="none" stroke-linejoin="miter"/>
<text x="767.56" y="2183.5" font-size="21.5" font-weight="bold" textLength="25.59" lengthAdjust="spacingAndGlyphs">10</text>
<text x="792.66" y="2175.3" font-size="14" font-weight="bold" textLength="12.54" lengthAdjust="spacingAndGlyphs">-5</text>
<path d="M840.43 2170.3L832.73 2178L840.43 2185.8" stroke="#000" stroke-width="2" fill="none" stroke-linejoin="miter"/>
<text x="842.18" y="2183.5" font-size="21.5" font-weight="bold" textLength="25.59" lengthAdjust="spacingAndGlyphs">10</text>
<text x="867.28" y="2175.3" font-size="14" font-weight="bold" textLength="12.54" lengthAdjust="spacingAndGlyphs">-5</text>
<path d="M915.05 2170.3L907.35 2178L915.05 2185.8" stroke="#000" stroke-width="2" fill="none" stroke-linejoin="miter"/>
<text x="916.8" y="2183.5" font-size="21.5" font-weight="bold" textLength="25.59" lengthAdjust="spacingAndGlyphs">10</text>
<text x="941.9" y="2175.3" font-size="14" font-weight="bold" textLength="12.54" lengthAdjust="spacingAndGlyphs">-5</text>
<path d="M989.67 2170.3L981.97 2178L989.67 2185.8" stroke="#000" stroke-width="2" fill="none" stroke-linejoin="miter"/>
<text x="991.42" y="2183.5" font-size="21.5" font-weight="bold" textLength="25.59" lengthAdjust="spacingAndGlyphs">10</text>
<text x="1016.52" y="2175.3" font-size="14" font-weight="bold" textLength="12.54" lengthAdjust="spacingAndGlyphs">-5</text>
<path d="M1064.29 2170.3L1056.59 2178L1064.29 2185.8" stroke="#000" stroke-width="2" fill="none" stroke-linejoin="miter"/>
<text x="1066.04" y="2183.5" font-size="21.5" font-weight="bold" textLength="25.59" lengthAdjust="spacingAndGlyphs">10</text>
<text x="1091.14" y="2175.3" font-size="14" font-weight="bold" textLength="12.54" lengthAdjust="spacingAndGlyphs">-5</text>
<text x="410.91" y="2259.7" font-size="21.5" font-weight="bold" text-anchor="middle">--</text>
<text x="485.53" y="2259.7" font-size="21.5" font-weight="bold" text-anchor="middle">--</text>
<path d="M541.95 2246.5L534.25 2254.2L541.95 2262" stroke="#000" stroke-width="2" fill="none" stroke-linejoin="miter"/>
<text x="543.7" y="2259.7" font-size="21.5" font-weight="bold" textLength="25.59" lengthAdjust="spacingAndGlyphs">10</text>
<text x="568.8" y="2251.5" font-size="14" font-weight="bold" textLength="12.54" lengthAdjust="spacingAndGlyphs">-5</text>
<text x="633.77" y="2259.7" font-size="21.5" font-weight="bold" text-anchor="middle">NS</text>
<text x="708.39" y="2259.7" font-size="21.5" font-weight="bold" text-anchor="middle">NS</text>
<path d="M765.81 2246.5L758.11 2254.2L765.81 2262" stroke="#000" stroke-width="2" fill="none" stroke-linejoin="miter"/>
<text x="767.56" y="2259.7" font-size="21.5" font-weight="bold" textLength="25.59" lengthAdjust="spacingAndGlyphs">10</text>
<text x="792.66" y="2251.5" font-size="14" font-weight="bold" textLength="12.54" lengthAdjust="spacingAndGlyphs">-5</text>
<path d="M840.43 2246.5L832.73 2254.2L840.43 2262" stroke="#000" stroke-width="2" fill="none" stroke-linejoin="miter"/>
<text x="842.18" y="2259.7" font-size="21.5" font-weight="bold" textLength="25.59" lengthAdjust="spacingAndGlyphs">10</text>
<text x="867.28" y="2251.5" font-size="14" font-weight="bold" textLength="12.54" lengthAdjust="spacingAndGlyphs">-5</text>
<text x="932.25" y="2259.7" font-size="21.5" font-weight="bold" text-anchor="middle">NS</text>
<path d="M989.67 2246.5L981.97 2254.2L989.67 2262" stroke="#000" stroke-width="2" fill="none" stroke-linejoin="miter"/>
<text x="991.42" y="2259.7" font-size="21.5" font-weight="bold" textLength="25.59" lengthAdjust="spacingAndGlyphs">10</text>
<text x="1016.52" y="2251.5" font-size="14" font-weight="bold" textLength="12.54" lengthAdjust="spacingAndGlyphs">-5</text>
<path d="M1064.29 2246.5L1056.59 2254.2L1064.29 2262" stroke="#000" stroke-width="2" fill="none" stroke-linejoin="miter"/>
<text x="1066.04" y="2259.7" font-size="21.5" font-weight="bold" textLength="25.59" lengthAdjust="spacingAndGlyphs">10</text>
<text x="1091.14" y="2251.5" font-size="14" font-weight="bold" textLength="12.54" lengthAdjust="spacingAndGlyphs">-5</text>
</svg>
</body></html>
